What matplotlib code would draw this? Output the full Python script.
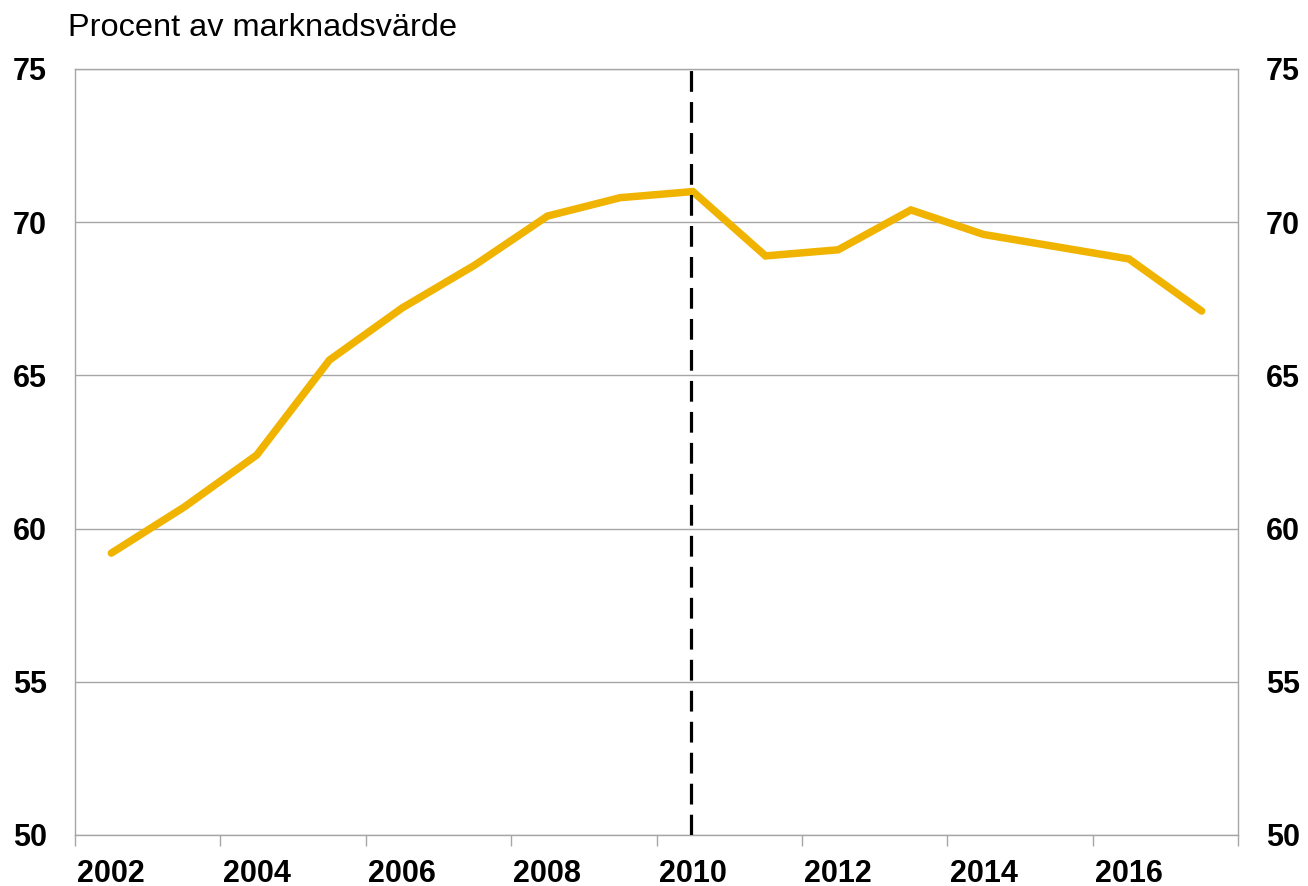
import matplotlib
matplotlib.use("Agg")
import matplotlib.pyplot as plt
from matplotlib.ticker import FixedLocator, NullFormatter

plt.rcParams['font.family'] = ['Liberation Sans', 'DejaVu Sans']

years = [2002, 2003, 2004, 2005, 2006, 2007, 2008, 2009,
         2010, 2011, 2012, 2013, 2014, 2015, 2016, 2017]
values = [59.2, 60.7, 62.4, 65.5, 67.2, 68.6, 70.2, 70.8,
          71.0, 68.9, 69.1, 70.4, 69.6, 69.2, 68.8, 67.1]
label_years = [2002, 2004, 2006, 2008, 2010, 2012, 2014, 2016]
yticks = [50, 55, 60, 65, 70, 75]
marker_year = 2010
title = "Procent av marknadsvärde"

fig = plt.figure(figsize=(13.08, 8.86), dpi=100)
ax = fig.add_axes([75/1308, 1-835/886, (1238-75)/1308, (835-69)/886])

grid_c = '#a6a6a6'
ax.set_xlim(years[0]-0.5, years[-1]+0.5)
ax.set_ylim(50, 75)
ax.set_yticks(yticks)
for y in yticks:
    ax.axhline(y, color=grid_c, lw=1.0, zorder=1)

ax.plot(years, values, color='#F0B400', lw=5.4, solid_capstyle='round',
        solid_joinstyle='miter', zorder=3)
ax.axvline(marker_year - 0.03, color='black', lw=2.3, ls=(0, (6.5, 3.2)), zorder=4)

# x ticks: marks at boundaries, labels at centers
ax.xaxis.set_major_locator(FixedLocator([y - 0.5 for y in years[::2]] + [years[-1] + 0.5]))
ax.xaxis.set_major_formatter(NullFormatter())
ax.xaxis.set_minor_locator(FixedLocator(label_years))
ax.set_xticklabels([str(y) for y in label_years], minor=True)
ax.tick_params(axis='x', which='major', length=8, width=1, color=grid_c, direction='out')
ax.tick_params(axis='x', which='minor', length=0, pad=17, labelsize=22)
for lab in ax.get_xticklabels(minor=True):
    lab.set_fontweight('bold')

ax.tick_params(axis='y', length=0, pad=20, labelsize=22)
for lab in ax.get_yticklabels():
    lab.set_fontweight('bold')

for s in ['left', 'right', 'bottom', 'top']:
    ax.spines[s].set_color(grid_c)
    ax.spines[s].set_linewidth(1.0)

ax2 = ax.twinx()
ax2.set_ylim(50, 75)
ax2.set_yticks(yticks)
ax2.tick_params(axis='y', length=0, pad=20, labelsize=22)
for lab in ax2.get_yticklabels():
    lab.set_fontweight('bold')
for s in ['left', 'right', 'bottom', 'top']:
    ax2.spines[s].set_visible(False)

fig.text(68/1308, 1-36/886, title, fontsize=23.4, ha='left', va='baseline')

fig.savefig('out.png', dpi=100)
